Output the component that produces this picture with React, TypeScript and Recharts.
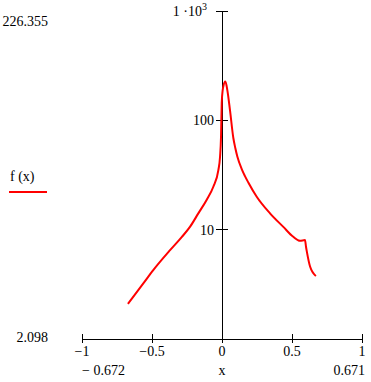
import React from "react";
import { LineChart, Line, XAxis, YAxis, ReferenceLine } from "recharts";

const xValues = [
  -0.672, -0.562, -0.491, -0.371, -0.288, -0.229, -0.169, -0.11, -0.062,
  -0.026, -0.014, -0.007, -0.002, 0.005, 0.009, 0.024, 0.038, 0.057, 0.081, 0.095, 0.11,
  0.141, 0.164, 0.188, 0.248, 0.343, 0.438, 0.509, 0.557, 0.593, 0.6, 0.607, 0.629, 0.671,
];
const yValues = [
  2.098, 3.23, 4.27, 6.5, 8.55, 10.6, 14.1, 18.7, 24.7,
  35.1, 46.4, 70.8, 144, 189, 203, 226.355, 189, 124, 68.9, 55.8, 46.4,
  35.8, 30.9, 27.0, 20.0, 14.1, 10.6, 8.61, 7.91, 8.03, 6.98, 6.2, 4.6, 3.77,
];
const xTicks = [-1, -0.5, 0, 0.5, 1];
const yTicks = [10, 100, 1000];
const xDomain = [-1, 1];
const yDomain = [1, 1000];
const seriesName = "f (x)";
const xName = "x";

const data = xValues.map((x, i) => ({ x, y: yValues[i] }));

const W = 371;
const H = 382;
const M = { top: 11, right: 9, left: 82, bottom: 0 };
const X_AXIS_H = 43;
const FONT = "'Liberation Serif', 'Times New Roman', serif";

const fmtNum = (v: number) => (v < 0 ? "\u2212" + Math.abs(v) : String(v));
const fmtRange = (v: number) => (v < 0 ? "\u2212 " + Math.abs(v).toFixed(3) : v.toFixed(3));

const XTick = (props: any) => {
  const { x, y, payload } = props;
  return (
    <g>
      <line x1={x} x2={x} y1={y - 5} y2={y + 4} stroke="#000" strokeWidth={1} shapeRendering="crispEdges" />
      <text x={x} y={y + 17} textAnchor="middle" fontFamily={FONT} fontSize={14} fill="#000">
        {fmtNum(payload.value)}
      </text>
    </g>
  );
};

const makeYTick = (v: number) => (props: any) => {
  const { x1, x2, y1 } = props;
  if (x1 == null || y1 == null) return null;
  // the vertical axis crosses at x = 0, the centre of the symmetric x domain
  const ax = (x1 + x2) / 2;
  const y = y1;
  let label: React.ReactNode = String(v);
  let tx = ax - 8;
  if (v >= 1000) {
    const e = Math.round(Math.log10(v));
    label = (
      <>
        {"1 \u00b710"}
        <tspan dy={-6} fontSize={10}>{String(e)}</tspan>
      </>
    );
    tx = ax - 15;
  }
  return (
    <g>
      <line x1={ax - 6} x2={ax + 6} y1={y} y2={y} stroke="#000" strokeWidth={1} shapeRendering="crispEdges" />
      <text x={tx} y={y + 5} textAnchor="end" fontFamily={FONT} fontSize={14} fill="#000">
        {label}
      </text>
    </g>
  );
};

const VLine = (props: any) => {
  const { x1, y1, x2, y2 } = props;
  if (x1 == null) return null;
  return <line x1={x1} y1={y1} x2={x2} y2={y2} stroke="#000" strokeWidth={1} shapeRendering="crispEdges" />;
};

const txt = (style: React.CSSProperties): React.CSSProperties => ({
  position: "absolute",
  fontFamily: FONT,
  fontSize: 14,
  lineHeight: "16px",
  color: "#000",
  whiteSpace: "nowrap",
  ...style,
});

export default function App() {
  const yMax = Math.max(...yValues);
  const yMin = Math.min(...yValues);
  const xMin = Math.min(...xValues);
  const xMax = Math.max(...xValues);
  return (
    <div style={{ position: "absolute", left: 0, top: 0, width: W, height: H, background: "#fff" }}>
      <LineChart width={W} height={H} data={data} margin={M}>
        <XAxis
          type="number"
          dataKey="x"
          domain={xDomain}
          ticks={xTicks}
          interval={0}
          allowDataOverflow
          height={X_AXIS_H}
          tickSize={0}
          tickMargin={0}
          tickLine={false}
          axisLine={{ stroke: "#000", strokeWidth: 1, shapeRendering: "crispEdges" }}
          tick={<XTick />}
        />
        <YAxis
          type="number"
          scale="log"
          domain={yDomain}
          ticks={yTicks}
          allowDataOverflow
          hide
        />
        <ReferenceLine x={0} shape={VLine} />
        {yTicks.map((v) => (
          <ReferenceLine key={v} y={v} shape={makeYTick(v)} />
        ))}
        <Line
          type="monotone"
          dataKey="y"
          stroke="#ff0000"
          strokeWidth={2}
          dot={false}
          isAnimationActive={false}
        />
      </LineChart>
      <div style={txt({ left: 0, width: 48, textAlign: "right", top: 14 })}>{yMax.toFixed(3)}</div>
      <div style={txt({ left: 0, width: 48, textAlign: "right", top: 330 })}>{yMin.toFixed(3)}</div>
      <div style={txt({ left: 10, top: 169 })}>{seriesName}</div>
      <div style={{ position: "absolute", left: 9, top: 191, width: 38, height: 2, background: "#ff0000" }} />
      <div style={txt({ left: 82, top: 363 })}>{fmtRange(xMin)}</div>
      <div style={txt({ left: 202, width: 40, textAlign: "center", top: 363 })}>{xName}</div>
      <div style={txt({ left: 305, width: 60, textAlign: "right", top: 363 })}>{fmtRange(xMax)}</div>
    </div>
  );
}
